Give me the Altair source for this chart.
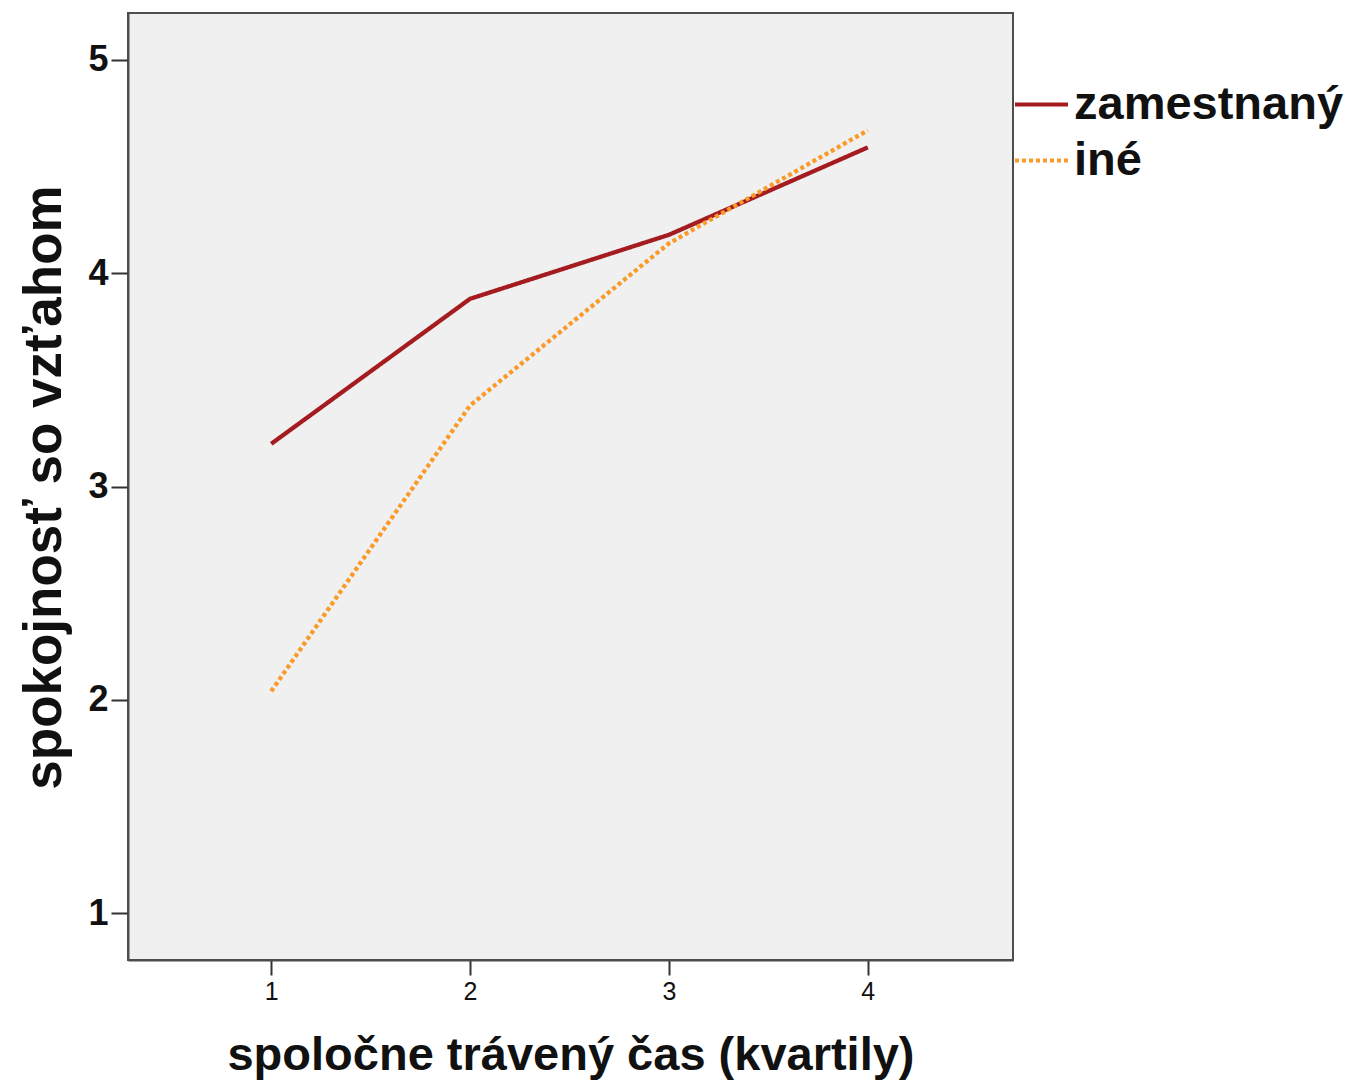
import altair as alt
import pandas as pd

quartiles = [1, 2, 3, 4]
zamestnany = [3.20, 3.88, 4.18, 4.59]
ine = [2.04, 3.38, 4.14, 4.67]
series_names = ["zamestnaný", "iné"]
series_colors = ["#a51c20", "#fa9a28"]
series_dash = [[1, 0], [4, 3]]
y_ticks = [1, 2, 3, 4, 5]
x_ticks = [1, 2, 3, 4]

rows = []
for q, v in zip(quartiles, zamestnany):
    rows.append({"kvartil": q, "hodnota": v, "skupina": series_names[0]})
for q, v in zip(quartiles, ine):
    rows.append({"kvartil": q, "hodnota": v, "skupina": series_names[1]})
df = pd.DataFrame(rows)

FONT = "Liberation Sans"

legend_kw = dict(title=None, orient="none", legendX=885, legendY=63,
                 symbolType="stroke", symbolSize=2809,
                 symbolStrokeWidth=4, labelFont=FONT,
                 labelFontSize=47, labelFontWeight="bold",
                 labelColor="#111111", labelOffset=4, labelLimit=500,
                 rowPadding=4, padding=0)

chart = alt.Chart(df).mark_line(strokeWidth=4.3, strokeCap="butt").encode(
    x=alt.X("kvartil:Q",
            scale=alt.Scale(domain=[0.28, 4.73], nice=False, zero=False),
            axis=alt.Axis(values=x_ticks, title="spoločne trávený čas (kvartily)",
                          format="d", grid=False,
                          tickSize=15, tickWidth=2, tickColor="#333333",
                          domainColor="#4d4d4d", domainWidth=2,
                          labelFont="Liberation Sans Narrow, Liberation Sans",
                          labelFontSize=25, labelFontWeight="normal",
                          labelColor="#111111", labelPadding=4,
                          titleFont=FONT, titleFontSize=47, titleFontWeight="bold",
                          titleColor="#111111", titleBaseline="middle",
                          titleY=95)),
    y=alt.Y("hodnota:Q",
            scale=alt.Scale(domain=[0.78, 5.22], nice=False, zero=False),
            axis=alt.Axis(values=y_ticks, title="spokojnosť so vzťahom",
                          format="d", grid=False,
                          tickSize=17, tickWidth=2, tickColor="#333333",
                          domainColor="#4d4d4d", domainWidth=2,
                          labelFont=FONT, labelFontSize=36, labelFontWeight="bold",
                          labelColor="#111111", labelPadding=3,
                          titleFont=FONT, titleFontSize=53, titleFontWeight="bold",
                          titleColor="#111111", titleBaseline="middle",
                          titleX=-84, titleY=474)),
    color=alt.Color("skupina:N",
                    scale=alt.Scale(domain=series_names, range=series_colors),
                    legend=alt.Legend(**legend_kw)),
    strokeDash=alt.StrokeDash("skupina:N",
                              scale=alt.Scale(domain=series_names, range=series_dash),
                              legend=alt.Legend(**legend_kw)),
).properties(
    width=885, height=947,
    background="white",
    autosize=alt.AutoSizeParams(type="none"),
    padding={"left": 120, "top": 5, "right": 332, "bottom": 120},
).configure_view(
    fill="#f0f0f0", stroke="#4d4d4d", strokeWidth=2
)

chart.save("out.html", embed_options={"renderer": "svg", "actions": False})
